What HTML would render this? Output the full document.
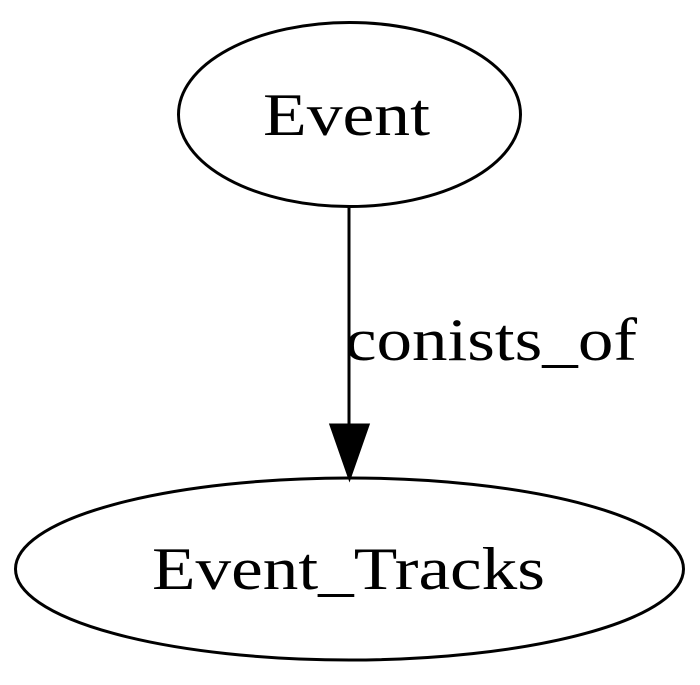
<!DOCTYPE html>
<html><head><style>html,body{margin:0;padding:0;background:#fff;}</style></head>
<body>
<svg width="700" height="680" viewBox="0 0 700 680" xmlns="http://www.w3.org/2000/svg">
<rect width="700" height="680" fill="#fff"/>
<ellipse cx="349.5" cy="114.5" rx="171" ry="92" fill="none" stroke="#000" stroke-width="3"/>
<text x="263" y="135" textLength="167" lengthAdjust="spacingAndGlyphs" font-family="Liberation Serif, serif" font-size="60">Event</text>
<line x1="349" y1="207" x2="349" y2="425" stroke="#000" stroke-width="3"/>
<polygon points="331,425 368,425 349.5,478" fill="#000" stroke="#000" stroke-width="3"/>
<text x="345" y="360" textLength="292" lengthAdjust="spacingAndGlyphs" font-family="Liberation Serif, serif" font-size="60">conists_of</text>
<ellipse cx="349.5" cy="569" rx="334" ry="91" fill="none" stroke="#000" stroke-width="3"/>
<text x="152" y="589" textLength="393" lengthAdjust="spacingAndGlyphs" font-family="Liberation Serif, serif" font-size="60">Event_Tracks</text>
</svg>
</body></html>
